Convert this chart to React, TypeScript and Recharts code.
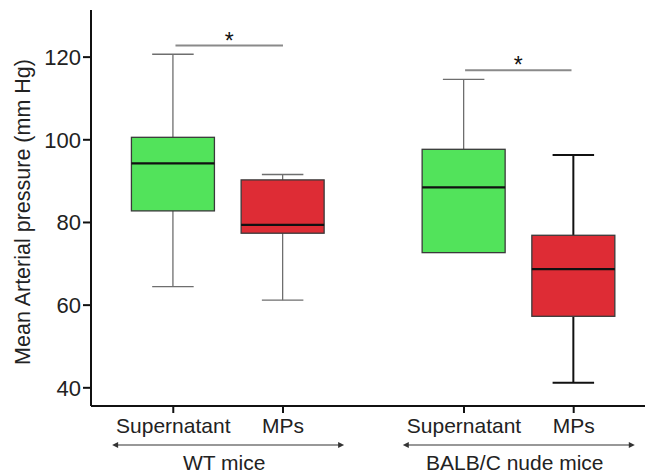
import React from "react"
import {
  ComposedChart,
  Bar,
  XAxis,
  YAxis,
  ReferenceLine,
} from "recharts"

// boxes, left to right
const categories = ["Supernatant", "MPs", "Supernatant", "MPs"]
const positions = [1, 2, 3.65, 4.65]
const mins = [64.5, 61.2, 72.7, 41.2]
const q1s = [82.8, 77.4, 72.7, 57.3]
const medians = [94.3, 79.4, 88.5, 68.7]
const q3s = [100.6, 90.3, 97.7, 76.9]
const maxs = [120.7, 91.6, 114.6, 96.3]

const yTicks = [40, 60, 80, 100, 120]

const groups = ["WT mice", "BALB/C nude mice"]
const groupCenters = [1.5, 4.15]

// significance brackets
const sigFrom = [1.02, 3.66]
const sigTo = [2, 4.63]
const sigY = [122.8, 116.8]

const FONT = "'Liberation Sans', Arial, Helvetica, sans-serif"
const GREEN = "#52e35b"
const RED = "#de2c35"
const whiskerStyle = [
  { stroke: "#6e6e6e", width: 1.3 },
  { stroke: "#6e6e6e", width: 1.3 },
  { stroke: "#6e6e6e", width: 1.3 },
  { stroke: "#111", width: 2 },
]

const rows = positions.map((p, i) => ({
  pos: p,
  name: categories[i],
  min: mins[i],
  q1: q1s[i],
  median: medians[i],
  q3: q3s[i],
  max: maxs[i],
}))

const BoxShape = (props: any) => {
  const { x, y, width, height, payload, index } = props
  const { min, q1, median, q3, max } = payload
  // bar spans min..max, map other stats onto it
  const py = (v: number) => y + (height * (max - v)) / (max - min || 1)
  const cx = x + width / 2
  const cap = width * 0.25
  const ws = whiskerStyle[index] || whiskerStyle[0]
  const fill = payload.name === "MPs" ? RED : GREEN
  return (
    <g>
      <line x1={cx} x2={cx} y1={py(max)} y2={py(q3)} stroke={ws.stroke} strokeWidth={ws.width} />
      <line x1={cx - cap} x2={cx + cap} y1={py(max)} y2={py(max)} stroke={ws.stroke} strokeWidth={ws.width} />
      <line x1={cx} x2={cx} y1={py(q1)} y2={py(min)} stroke={ws.stroke} strokeWidth={ws.width} />
      {min < q1 && (
        <line x1={cx - cap} x2={cx + cap} y1={py(min)} y2={py(min)} stroke={ws.stroke} strokeWidth={ws.width} />
      )}
      <rect
        x={x}
        y={py(q3)}
        width={width}
        height={py(q1) - py(q3)}
        fill={fill}
        stroke="#3a3a3a"
        strokeWidth={1.3}
      />
      <line x1={x} x2={x + width} y1={py(median)} y2={py(median)} stroke="#111" strokeWidth={2.2} />
    </g>
  )
}

const GroupTick = (props: any) => {
  const { x, y, payload } = props
  const i = groupCenters.indexOf(payload.value)
  if (i < 0) return null
  const half = 116
  const ay = y + 9
  return (
    <g>
      <line x1={x - half + 4} x2={x + half - 4} y1={ay} y2={ay} stroke="#333" strokeWidth={1.2} />
      <path d={`M${x - half},${ay} l6,-3 v6 z`} fill="#333" />
      <path d={`M${x + half},${ay} l-6,-3 v6 z`} fill="#333" />
      <text x={x - 4} y={y + 34} textAnchor="middle" fontSize={21} fill="#222" fontFamily={FONT}>
        {groups[i]}
      </text>
    </g>
  )
}

const YLabel = (props: any) => {
  const { viewBox } = props
  const cx = viewBox.x + 30
  const cy = 212
  return (
    <text
      x={cx}
      y={cy}
      transform={`rotate(-90, ${cx}, ${cy})`}
      textAnchor="middle"
      fontSize={21.5}
      fill="#222"
      fontFamily={FONT}
    >
      Mean Arterial pressure (mm Hg)
    </text>
  )
}

export default function App() {
  return (
    <div style={{ position: "absolute", left: 0, top: 0, background: "#fff" }}>
      <ComposedChart
        width={645}
        height={474}
        data={rows}
        margin={{ top: 10, right: 0, bottom: 0, left: 0 }}
        style={{ fontFamily: FONT }}
      >
        <XAxis
          xAxisId="cat"
          dataKey="pos"
          type="number"
          domain={[0.25, 5.3]}
          allowDataOverflow
          ticks={positions}
          interval={0}
          tickFormatter={(v: number) => categories[positions.indexOf(v)]}
          height={30}
          axisLine={{ stroke: "#111", strokeWidth: 2 }}
          tickLine={{ stroke: "#111", strokeWidth: 2 }}
          tickSize={7}
          tickMargin={5}
          tick={{ fill: "#222", fontSize: 21 }}
        />
        <XAxis
          xAxisId="group"
          dataKey="pos"
          type="number"
          domain={[0.25, 5.3]}
          allowDataOverflow
          ticks={groupCenters}
          interval={0}
          height={38}
          axisLine={false}
          tickLine={false}
          tickSize={0}
          tickMargin={0}
          tick={<GroupTick />}
        />
        <YAxis
          type="number"
          domain={[35.6, 131.4]}
          allowDataOverflow
          ticks={yTicks}
          width={91}
          axisLine={{ stroke: "#111", strokeWidth: 2 }}
          tickLine={{ stroke: "#111", strokeWidth: 2 }}
          tickSize={8}
          tick={{ fill: "#222", fontSize: 22 }}
          label={<YLabel />}
        />
        <Bar
          xAxisId="cat"
          dataKey={(d: any) => [d.min, d.max]}
          barSize={83}
          shape={<BoxShape />}
          isAnimationActive={false}
        />
        {sigY.map((v, i) => (
          <ReferenceLine
            key={i}
            xAxisId="cat"
            segment={[
              { x: sigFrom[i], y: v },
              { x: sigTo[i], y: v },
            ]}
            stroke="#8a8a8a"
            strokeWidth={2}
            label={{ value: "*", position: "top", offset: -3, fontSize: 23, fill: "#111" }}
          />
        ))}
      </ComposedChart>
    </div>
  )
}
